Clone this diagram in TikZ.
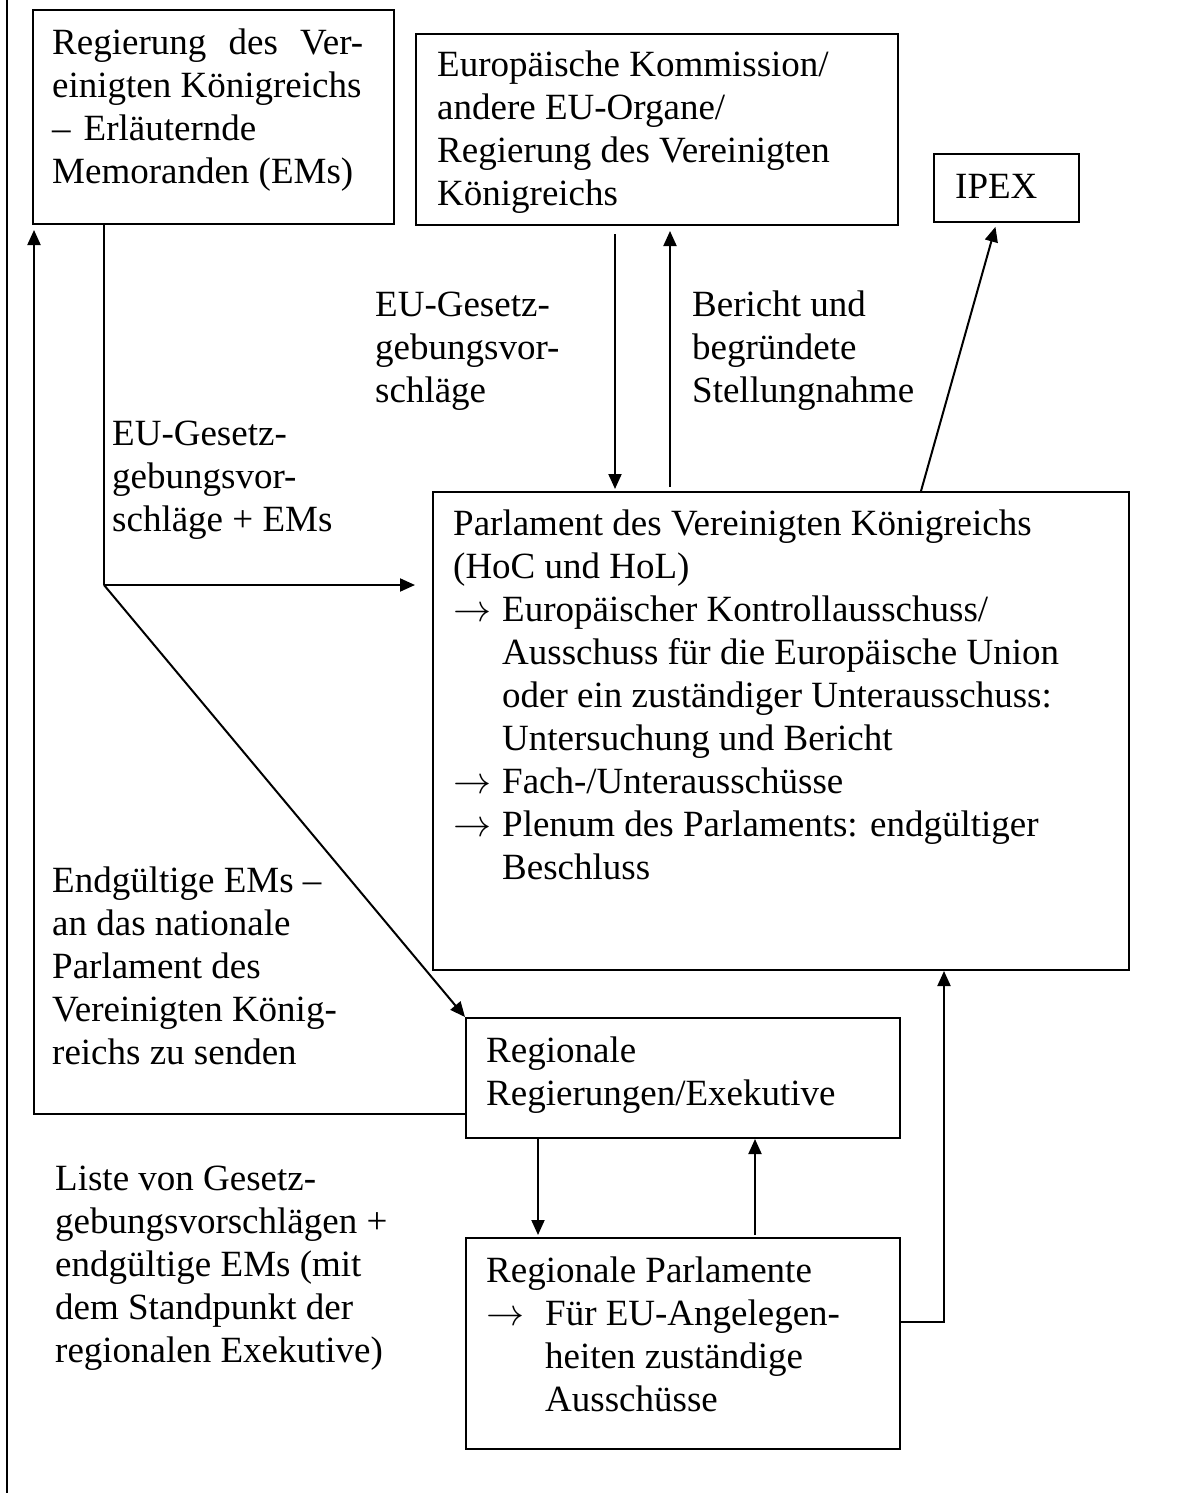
\documentclass[tikz,border=0pt]{standalone}
\usepackage{graphicx}
\usepackage{fontspec}
\setmainfont{Liberation Serif}
\usetikzlibrary{arrows.meta, positioning, calc}

\tikzset{
  box/.style={draw, line width=2pt, anchor=north west, inner sep=0pt},
  txt/.style={anchor=base west, inner sep=0pt, font=\fontsize{37}{43}\selectfont},
  arr/.style={line width=2pt, -{Triangle[length=15pt,width=13pt]}},
  ln/.style={line width=2pt}
}
\newcommand{\txtlines}[1]{\begin{tabular}[t]{@{}l@{}}#1\end{tabular}}
\newcommand{\arrtab}[1][49pt]{\makebox[#1][l]{\resizebox{38pt}{!}{$\rightarrow$}}}
\newcommand{\hangtab}[1][49pt]{\hspace*{#1}}

\begin{document}
\begin{tikzpicture}[x=1pt,y=-1pt]
\useasboundingbox (0,0) rectangle (1182,1493);

% Draw boxes
\node[box, minimum width=361pt, minimum height=214pt] (gov) at (32,9) {};
\node[box, minimum width=482pt, minimum height=191pt] (com) at (415,33) {};
\node[box, minimum width=145pt, minimum height=68pt] (ipex) at (933,153) {};
\node[box, minimum width=696pt, minimum height=478pt] (parl) at (432,491) {};
\node[box, minimum width=434pt, minimum height=120pt] (rgov) at (465,1017) {};
\node[box, minimum width=434pt, minimum height=211pt] (rparl) at (465,1237) {};

% Box texts
\node[txt] (govtext) at ($(gov.north west)+(20,46)$) {\txtlines{\makebox[311pt][s]{Regierung des Ver-}\\einigten Königreichs\\–\hspace{0.35em}Erläuternde\\Memoranden (EMs)}};
\node[txt] (comtext) at ($(com.north west)+(22,44)$) {\txtlines{Europäische Kommission/\\andere EU-Organe/\\Regierung des Vereinigten\\Königreichs}};
\node[txt] (ipextext) at ($(ipex.north west)+(22,45)$) {IPEX};
\node[txt] (parltext) at ($(parl.north west)+(21,44)$) {\txtlines{Parlament des Vereinigten Königreichs\\
(HoC und HoL)\\
\arrtab Europäischer Kontrollausschuss/\\
\hangtab Ausschuss für die Europäische Union\\
\hangtab oder ein zuständiger Unterausschuss:\\
\hangtab Untersuchung und Bericht\\
\arrtab Fach-/Unterausschüsse\\
\arrtab Plenum des Parlaments: endgültiger\\
\hangtab Beschluss}};
\node[txt] (rgovtext) at ($(rgov.north west)+(21,45)$) {\txtlines{Regionale\\Regierungen/Exekutive}};
\node[txt] (rparltext) at ($(rparl.north west)+(21,45)$) {\txtlines{Regionale Parlamente\\
\arrtab[59pt]Für EU-Angelegen-\\
\hangtab[59pt]heiten zuständige\\
\hangtab[59pt]Ausschüsse}};

% Labels
\node[txt] (proplabel) at (375,316) {\txtlines{EU-Gesetz-\\gebungsvor-\\schläge}};
\node[txt] (replabel) at (692,316) {\txtlines{Bericht und\\begründete\\Stellungnahme}};
\node[txt] (emlabel) at (112,445) {\txtlines{EU-Gesetz-\\gebungsvor-\\schläge + EMs}};
\node[txt] (finallabel) at (52,892) {\txtlines{Endgültige EMs –\\an das nationale\\Parlament des\\Vereinigten König-\\reichs zu senden}};
\node[txt] (listlabel) at (55,1190) {\txtlines{Liste von Gesetz-\\gebungsvorschlägen +\\endgültige EMs (mit\\dem Standpunkt der\\regionalen Exekutive)}};

% Draw arrows
\coordinate (split) at (104,585);
\draw[ln] (gov.south -| split) -- (split);
\draw[arr, shorten >=17pt] (split) -- (split -| parl.west);
\draw[arr] (split) -- (rgov.north west);
\draw[arr, shorten >=5pt] ([yshift=-36pt]rgov.west) -| ([xshift=2pt]gov.south west);
\draw[arr, shorten <=8pt, shorten >=2pt] ([xshift=-42pt]com.south) -- ([xshift=-42pt]com.south |- parl.north);
\draw[arr, shorten <=4pt, shorten >=5pt] ([xshift=13pt]com.south |- parl.north) -- ([xshift=13pt]com.south);
\draw[arr, shorten >=4pt] ([xshift=140pt]parl.north) -- ([xshift=-10pt]ipex.south);
\draw[arr, shorten >=2pt] ([xshift=-145pt]rgov.south) -- ([xshift=-145pt]rgov.south |- rparl.north);
\draw[arr, shorten <=2pt] ([xshift=72pt]rgov.south |- rparl.north) -- ([xshift=72pt]rgov.south);
\draw[arr] ([yshift=21.5pt]rparl.east) -| ([xshift=163pt]parl.south);

% Page border
\draw[line width=1.5pt] (7,0) -- (7,1493);
\end{tikzpicture}
\end{document}
